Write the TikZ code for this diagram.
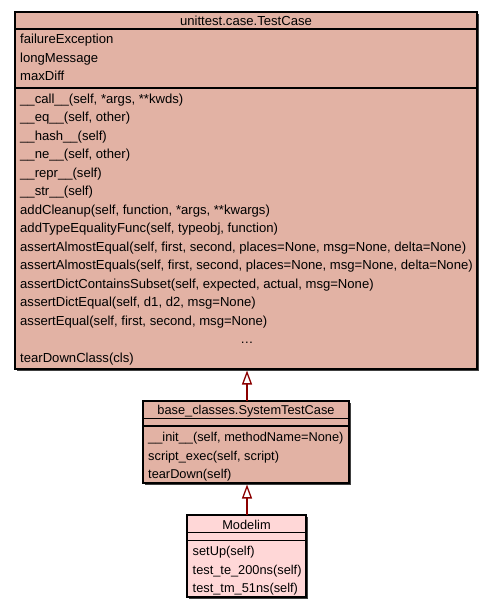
\documentclass[tikz,border=0pt]{standalone}
\usepackage{fontspec}
\setmainfont{Liberation Sans}
\usetikzlibrary{arrows.meta}
\definecolor{salmon}{HTML}{E2B2A4}
\definecolor{lpink}{HTML}{FFD7D7}
\definecolor{inhred}{HTML}{8B0000}
\tikzset{
  box/.style={draw=black, line width=1.2pt, anchor=north west, inner sep=0pt, outer sep=0pt},
  sep/.style={line width=1.2pt, black},
  txt/.style={anchor=base west, inner sep=0pt, font=\fontsize{13.1}{15}\selectfont},
  ttl/.style={anchor=base, inner sep=0pt, font=\fontsize{13.1}{15}\selectfont},
  stxt/.style={anchor=base west, inner sep=0pt, font=\fontsize{12.8}{15}\selectfont},
  sttl/.style={anchor=base, inner sep=0pt, font=\fontsize{12.8}{15}\selectfont},
  inh/.style={draw=inhred, line width=2.4pt, -{Triangle[open, length=14pt, width=10pt, line width=1.3pt, fill=white]}}
}
\begin{document}
\begin{tikzpicture}[x=1pt, y=-1pt]
\useasboundingbox (0,0) rectangle (493,611);
% shadows
\fill[black!75] (17,14) rectangle (479,371);
\fill[black!75] (145,403) rectangle (351,485);
\fill[black!75] (189,517) rectangle (308,599);
% boxes
\node[box, fill=salmon, minimum width=462pt, minimum height=357pt] (tc) at (15,12) {};
\node[box, fill=salmon, minimum width=206pt, minimum height=82pt] (stc) at (143,401) {};
\node[box, fill=lpink, minimum width=119pt, minimum height=82pt] (mod) at (187,515) {};
% separators
\draw[sep] (15,29) -- (477,29);
\draw[sep] (15,88) -- (477,88);
\draw[sep] (143,418.5) -- (349,418.5);
\draw[sep] (143,426) -- (349,426);
\draw[sep] (187,532.5) -- (306,532.5);
\draw[sep] (187,540.5) -- (306,540.5);
% TestCase texts
\node[ttl] (tct) at (246,25) {unittest.case.TestCase};
\node[txt] (a1) at (20,43.5) {failureException};
\node[txt] (a2) at (20,62) {longMessage};
\node[txt] (a3) at (20,80.5) {maxDiff};
\node[txt] (m1) at (20,103.2) {\_\_call\_\_(self, *args, **kwds)};
\node[txt] (m2) at (20,121.7) {\_\_eq\_\_(self, other)};
\node[txt] (m3) at (20,140.2) {\_\_hash\_\_(self)};
\node[txt] (m4) at (20,158.7) {\_\_ne\_\_(self, other)};
\node[txt] (m5) at (20,177.2) {\_\_repr\_\_(self)};
\node[txt] (m6) at (20,195.7) {\_\_str\_\_(self)};
\node[txt] (m7) at (20,214.2) {addCleanup(self, function, *args, **kwargs)};
\node[txt] (m8) at (20,232.7) {addTypeEqualityFunc(self, typeobj, function)};
\node[txt] (m9) at (20,251.2) {assertAlmostEqual(self, first, second, places=None, msg=None, delta=None)};
\node[txt] (m10) at (20,269.7) {assertAlmostEquals(self, first, second, places=None, msg=None, delta=None)};
\node[txt] (m11) at (20,288.2) {assertDictContainsSubset(self, expected, actual, msg=None)};
\node[txt] (m12) at (20,306.7) {assertDictEqual(self, d1, d2, msg=None)};
\node[txt] (m13) at (20,325.2) {assertEqual(self, first, second, msg=None)};
\node[ttl] (m14) at (247,343.7) {\dots};
\node[txt] (m15) at (20,362.2) {tearDownClass(cls)};
% SystemTestCase texts
\node[sttl] (stct) at (246,414) {base\_classes.SystemTestCase};
\node[stxt] (s1) at (148,441.2) {\_\_init\_\_(self, methodName=None)};
\node[stxt] (s2) at (148,460) {script\_exec(self, script)};
\node[stxt] (s3) at (148,478.5) {tearDown(self)};
% Modelim texts
\node[sttl] (modt) at (246.5,529) {Modelim};
\node[stxt] (d1) at (192.5,555.5) {setUp(self)};
\node[stxt] (d2) at (192.5,574) {test\_te\_200ns(self)};
\node[stxt] (d3) at (192.5,592.5) {test\_tm\_51ns(self)};
% inheritance
\draw[inh] (stc.north -| 247,0) -- (247,370.5);
\draw[inh] (mod.north -| 247,0) -- (247,484.5);
\end{tikzpicture}
\end{document}
